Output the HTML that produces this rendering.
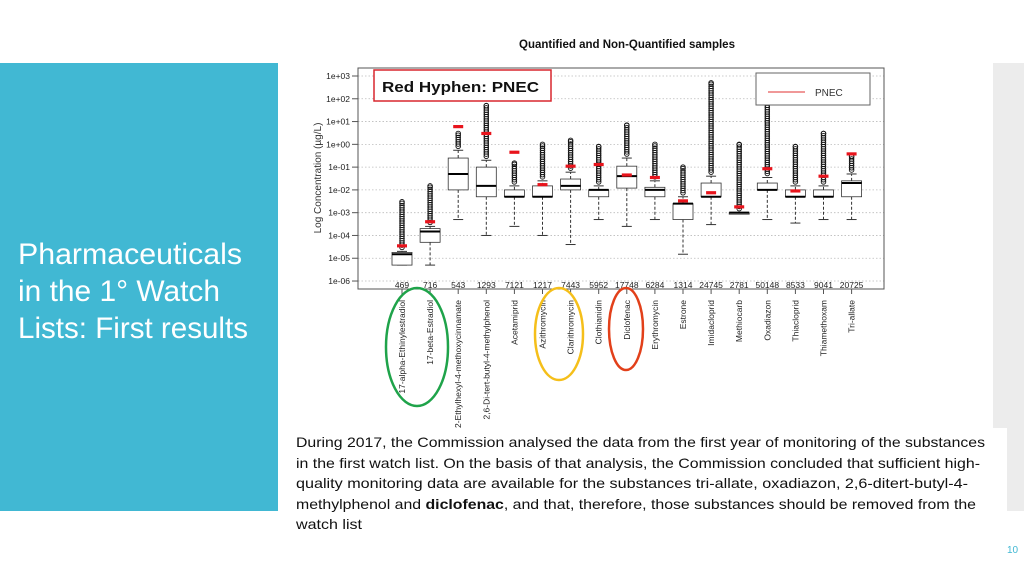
<!DOCTYPE html>
<html><head><meta charset="utf-8"><style>
html,body{margin:0;padding:0;background:#fff;}
svg{display:block;font-family:"Liberation Sans",sans-serif;}
</style></head><body>
<svg id="s" width="1024" height="576" viewBox="0 0 1024 576" xmlns="http://www.w3.org/2000/svg">
<rect x="0" y="63" width="278" height="448" fill="#41b8d3"/>
<rect x="993" y="63" width="31" height="448" fill="#ececec"/>
<g fill="#fff" font-size="30">
<text x="18" y="264" textLength="224" lengthAdjust="spacingAndGlyphs">Pharmaceuticals</text>
<text x="18" y="301" textLength="202" lengthAdjust="spacingAndGlyphs">in the 1° Watch</text>
<text x="18" y="338" textLength="230" lengthAdjust="spacingAndGlyphs">Lists: First results</text>
</g>
<rect x="283" y="428" width="724" height="120" fill="#fff"/>
<g fill="#111" font-size="14">
<text x="296" y="447" textLength="689" lengthAdjust="spacingAndGlyphs">During 2017, the Commission analysed the data from the first year of monitoring of the substances</text>
<text x="296" y="468" textLength="684" lengthAdjust="spacingAndGlyphs">in the first watch list. On the basis of that analysis, the Commission concluded that sufficient high-</text>
<text x="296" y="488" textLength="672" lengthAdjust="spacingAndGlyphs">quality monitoring data are available for the substances tri-allate, oxadiazon, 2,6-ditert-butyl-4-</text>
<text x="296" y="509" textLength="680" lengthAdjust="spacingAndGlyphs">methylphenol and <tspan font-weight="bold">diclofenac</tspan>, and that, therefore, those substances should be removed from the</text>
<text x="296" y="529" textLength="66" lengthAdjust="spacingAndGlyphs">watch list</text>
</g>
<text x="1007" y="553" font-size="10" fill="#41b8d3">10</text>
<text x="627" y="48" font-size="11.5" font-weight="bold" text-anchor="middle" fill="#111">Quantified and Non-Quantified samples</text>
<text transform="translate(321,178) rotate(-90)" font-size="10" text-anchor="middle" fill="#333">Log Concentration (µg/L)</text>
<g id="chart"></g>
<rect x="358" y="68" width="526" height="221" fill="none" stroke="#555" stroke-width="1"/>
<g>
<rect x="756" y="73" width="114" height="32" fill="#fff" stroke="#666"/>
<line x1="768" y1="92" x2="805" y2="92" stroke="#e03030" stroke-width="1"/>
<text x="815" y="96" font-size="10" fill="#333">PNEC</text>
</g>
<g>
<rect x="374" y="70" width="177" height="31" fill="#fff" stroke="#d9272e" stroke-width="1.5"/>
<text x="382" y="92" font-size="15" font-weight="bold" fill="#111" textLength="157" lengthAdjust="spacingAndGlyphs">Red Hyphen: PNEC</text>
</g>
<ellipse cx="417" cy="347" rx="31" ry="59" fill="none" stroke="#1fa34a" stroke-width="2.5"/>
<ellipse cx="559" cy="334" rx="24" ry="46" fill="none" stroke="#f5bf1a" stroke-width="2.5"/>
<ellipse cx="626" cy="329" rx="17" ry="41" fill="none" stroke="#e2401a" stroke-width="2.5"/>
</svg>
<script>
const categories=["17-alpha-Ethinylestradiol","17-beta-Estradiol","2-Ethylhexyl-4-methoxycinnamate","2,6-Di-tert-butyl-4-methylphenol","Acetamiprid","Azithromycin","Clarithromycin","Clothianidin","Diclofenac","Erythromycin","Estrone","Imidacloprid","Methiocarb","Oxadiazon","Thiacloprid","Thiamethoxam","Tri-allate"];
const counts=[469,716,543,1293,7121,1217,7443,5952,17748,6284,1314,24745,2781,50148,8533,9041,20725];
const q1=[5e-6,5e-5,1e-2,5e-3,5e-3,5e-3,1e-2,5e-3,1.2e-2,5e-3,5e-4,5e-3,1e-3,1e-2,5e-3,5e-3,5e-3];
const med=[1.5e-5,1.5e-4,5e-2,1.5e-2,5e-3,5e-3,1.5e-2,1e-2,4e-2,1e-2,2.5e-3,5e-3,1e-3,1e-2,5e-3,5e-3,2e-2];
const q3=[1.8e-5,2e-4,0.25,0.1,1e-2,1.5e-2,3e-2,1e-2,0.11,1.3e-2,2.5e-3,2e-2,1e-3,2e-2,1e-2,1e-2,2.5e-2];
const whiskLo=[5e-6,5e-6,5e-4,1e-4,2.5e-4,1e-4,4e-5,5e-4,2.5e-4,5e-4,1.5e-5,3e-4,1e-3,5e-4,3.5e-4,5e-4,5e-4];
const whiskHi=[2e-5,2.5e-4,0.55,0.2,1.5e-2,2.5e-2,6e-2,1.5e-2,0.25,2.5e-2,5e-3,4e-2,1e-3,3.5e-2,1.5e-2,1.5e-2,5e-2];
const outMax=[3e-3,1.5e-2,3,50,0.15,1,1.5,0.8,7,1,0.1,500,1,300,0.8,3,0.3];
const pnec=[3.5e-5,4e-4,6,3,0.45,1.7e-2,0.11,0.13,4.5e-2,3.5e-2,3.3e-3,7.5e-3,1.8e-3,8.5e-2,9e-3,4e-2,0.38];
const yTicks=["1e+03","1e+02","1e+01","1e+00","1e-01","1e-02","1e-03","1e-04","1e-05","1e-06"];

const NS="http://www.w3.org/2000/svg";
const g=document.getElementById('chart');
function y(v){return 76+(3-Math.log10(v))*22.78;}
function x(i){return 402+i*28.1;}
function mk(t,a,p){const e=document.createElementNS(NS,t);for(const k in a)e.setAttribute(k,a[k]);(p||g).appendChild(e);return e;}
yTicks.forEach((t,i)=>{
  const v=Math.pow(10,3-i), yy=y(v);
  const gl=mk('line',{x1:358,x2:884,y1:yy,y2:yy,stroke:'#bbb','stroke-dasharray':'1.5,2','stroke-width':0.8});
  
  
  mk('line',{x1:352,x2:358,y1:yy,y2:yy,stroke:'#555'});
  const tx=mk('text',{x:350,y:yy+3,'font-size':8.5,'text-anchor':'end',fill:'#222'});
  tx.textContent=t;
  
  
});
categories.forEach((c,i)=>{
  const cx=x(i), bw=10;
  const grp=mk('g',{});
  
  
  mk('line',{x1:cx,x2:cx,y1:y(q1[i]),y2:y(whiskLo[i]),stroke:'#333','stroke-dasharray':'3,2'},grp);
  mk('line',{x1:cx-5,x2:cx+5,y1:y(whiskLo[i]),y2:y(whiskLo[i]),stroke:'#333'},grp);
  mk('line',{x1:cx,x2:cx,y1:y(q3[i]),y2:y(whiskHi[i]),stroke:'#333','stroke-dasharray':'3,2'},grp);
  mk('line',{x1:cx-5,x2:cx+5,y1:y(whiskHi[i]),y2:y(whiskHi[i]),stroke:'#333'},grp);
  const top=y(q3[i]), bot=y(q1[i]);
  mk('rect',{x:cx-bw,y:top,width:2*bw,height:Math.max(bot-top,1.5),fill:'#fff',stroke:'#333','stroke-width':0.8},grp);
  mk('line',{x1:cx-bw,x2:cx+bw,y1:y(med[i]),y2:y(med[i]),stroke:'#000','stroke-width':2},grp);
  const y0=y(whiskHi[i])-4, y1=y(outMax[i]);
  for(let yy=y0; yy>=y1; yy-=2.2){mk('circle',{cx:cx,cy:yy,r:2.3,fill:'none',stroke:'#111','stroke-width':0.9},grp);}
  mk('circle',{cx:cx,cy:y1,r:2.3,fill:'none',stroke:'#111','stroke-width':0.9},grp);
  const p=mk('rect',{x:cx-5,y:y(pnec[i])-1.6,width:10,height:3.2,fill:'#e8141c'});
  
  
  const n=mk('text',{x:cx,y:288,'font-size':8.5,'text-anchor':'middle',fill:'#222'});
  n.textContent=counts[i];
  
  
  mk('line',{x1:cx,x2:cx,y1:289,y2:294,stroke:'#555'});
  const l=mk('text',{transform:`translate(${cx+3},300) rotate(-90)`,'font-size':8.5,'text-anchor':'end',fill:'#222'});
  l.textContent=c;
  
  
});
</script>
</body></html>
